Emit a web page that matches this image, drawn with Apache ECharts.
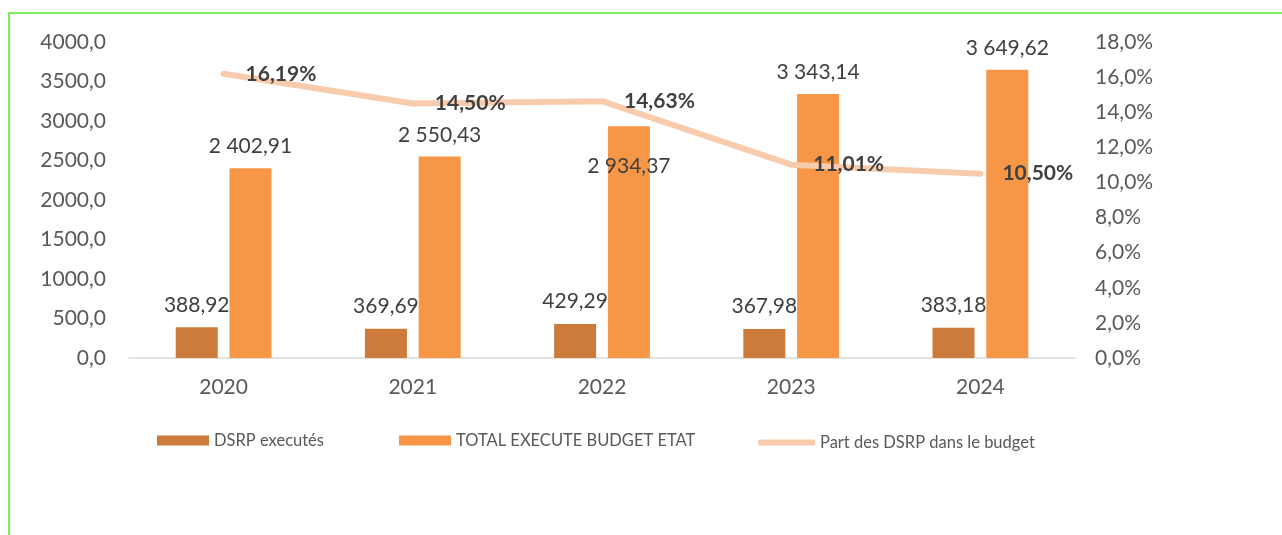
<!DOCTYPE html>
<html>
<head>
<meta charset="utf-8">
<script src="https://cdn.jsdelivr.net/npm/echarts@6/dist/echarts.min.js"></script>
<style>
html,body{margin:0;padding:0;background:#fff;}
#chart{width:1282px;height:535px;}
</style>
</head>
<body>
<div id="chart"></div>
<script>
const categories = ['2020', '2021', '2022', '2023', '2024'];
const dsrpValues = [388.92, 369.69, 429.29, 367.98, 383.18];
const totalValues = [2402.91, 2550.43, 2934.37, 3343.14, 3649.62];
const sharePercent = [16.19, 14.50, 14.63, 11.01, 10.50];
const seriesNames = ['DSRP executés', 'TOTAL EXECUTE BUDGET ETAT', 'Part des DSRP dans le budget'];

const FONT = 'Lato';
function frNum(v, d) {
  const s = v.toFixed(d);
  const parts = s.split('.');
  const intPart = parts[0].replace(/\B(?=(\d{3})+(?!\d))/g, ' ');
  return parts.length > 1 ? intPart + ',' + parts[1] : intPart;
}

const chart = echarts.init(document.getElementById('chart'), null, {renderer: 'canvas'});

const totalData = totalValues.map((v, i) => {
  if (i === 2) {
    return {value: v, label: {position: 'insideTop', distance: 30}};
  }
  return v;
});

const legendBase = {
  top: 432,
  padding: 0,
  itemWidth: 52,
  itemHeight: 10,
  itemGap: 5,
  icon: 'rect',
  textStyle: {fontFamily: FONT, fontSize: 16.5, color: '#595959'},
  selectedMode: false
};

chart.setOption({
  animation: false,
  backgroundColor: '#ffffff',
  textStyle: {fontFamily: FONT},
  graphic: [{
    type: 'rect',
    shape: {x: 9, y: 13, width: 1400, height: 700},
    style: {fill: 'none', stroke: '#7cf05c', lineWidth: 2},
    silent: true,
    z: 100
  }],
  grid: {left: 129, right: 207, top: 42, bottom: 177, containLabel: false},
  legend: [
    Object.assign({}, legendBase, {left: 157, data: [seriesNames[0]]}),
    Object.assign({}, legendBase, {left: 399, data: [seriesNames[1]]}),
    Object.assign({}, legendBase, {left: 758, top: 434, itemWidth: 57, itemHeight: 6, icon: 'roundRect', data: [seriesNames[2]]})
  ],
  xAxis: {
    type: 'category',
    data: categories,
    axisTick: {show: false},
    axisLine: {lineStyle: {color: '#d9d9d9', width: 1.5}},
    axisLabel: {fontFamily: FONT, fontSize: 21, color: '#595959', margin: 19}
  },
  yAxis: [{
    type: 'value',
    min: 0, max: 4000, interval: 500,
    splitLine: {show: false},
    axisLine: {show: false},
    axisTick: {show: false},
    axisLabel: {fontFamily: FONT, fontSize: 21, color: '#595959', margin: 23,
      formatter: v => v.toFixed(1).replace('.', ',')}
  }, {
    type: 'value',
    min: 0, max: 18, interval: 2,
    position: 'right',
    splitLine: {show: false},
    axisLine: {show: false},
    axisTick: {show: false},
    axisLabel: {fontFamily: FONT, fontSize: 21, color: '#595959', margin: 20,
      formatter: v => v.toFixed(1).replace('.', ',') + '%'}
  }],
  series: [{
    name: seriesNames[0],
    type: 'bar',
    data: dsrpValues,
    barWidth: 42,
    barGap: '28%',
    itemStyle: {color: '#cc7b3a'},
    label: {show: true, position: 'top', distance: 12, fontFamily: FONT, fontSize: 21, color: '#404040',
      formatter: p => frNum(p.value, 2)}
  }, {
    name: seriesNames[1],
    type: 'bar',
    data: totalData,
    barWidth: 42,
    itemStyle: {color: '#f79646'},
    label: {show: true, position: 'top', distance: 11, fontFamily: FONT, fontSize: 21, color: '#404040',
      formatter: p => frNum(p.value, 2)}
  }, {
    name: seriesNames[2],
    type: 'line',
    yAxisIndex: 1,
    data: sharePercent,
    symbol: 'circle',
    symbolSize: 0,
    showSymbol: true,
    z: 5,
    lineStyle: {color: '#f8cbad', width: 6, cap: 'round', join: 'round'},
    itemStyle: {color: '#f8cbad'},
    label: {show: true, position: 'right', distance: 22, fontFamily: FONT, fontSize: 21, fontWeight: 'bold', color: '#404040',
      formatter: p => p.value.toFixed(2).replace('.', ',') + '%'}
  }]
});
</script>
</body>
</html>
